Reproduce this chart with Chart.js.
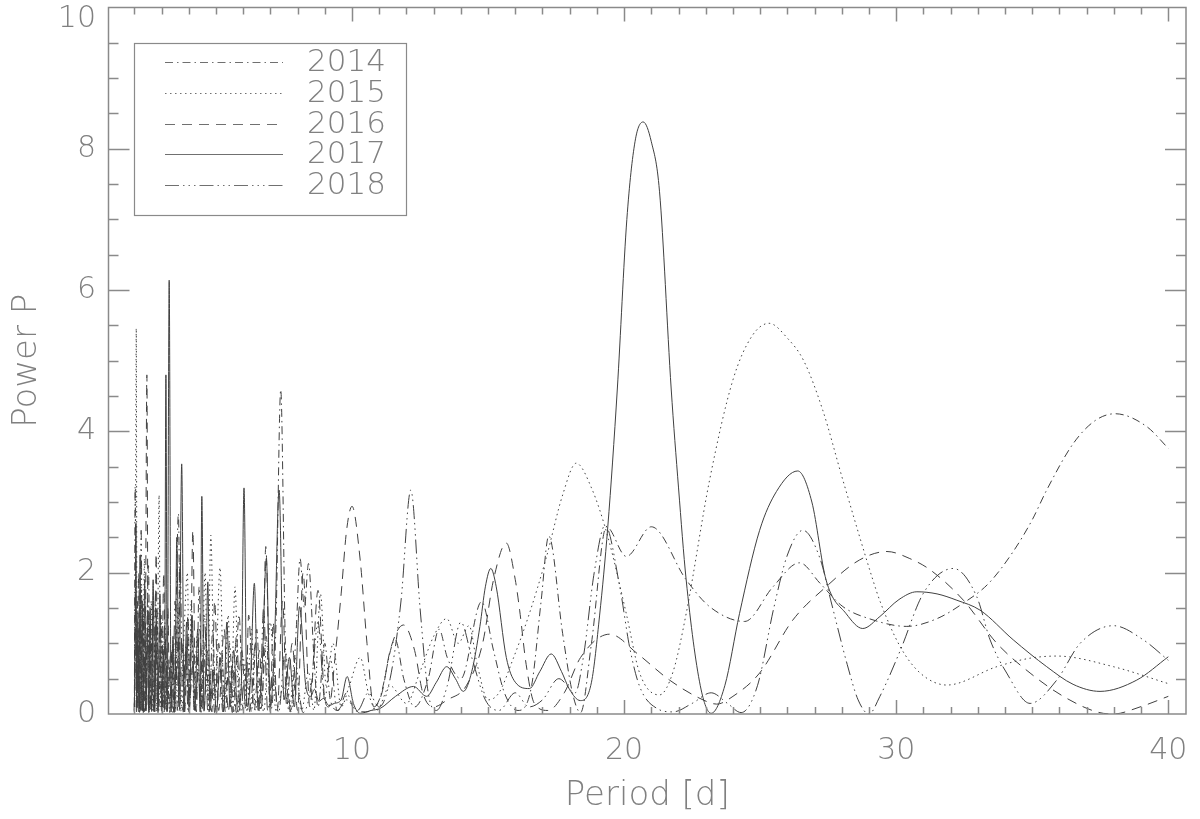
<!DOCTYPE html>
<html>
<head>
<meta charset="utf-8">
<script src="https://cdn.jsdelivr.net/npm/chart.js@4.4.1/dist/chart.umd.min.js"></script>
<style>
  html, body { margin: 0; padding: 0; background: #fff; }
  canvas { display: block; }
</style>
</head>
<body>
<canvas id="chart" width="1200" height="819"></canvas>
<script>
// periodogram per season: [period (d), power]
const years = ["2014", "2015", "2016", "2017", "2018"];

const s2014 = [[2.0,0.05],[2.03,3.22],[2.07,0.1],[2.12,1.6],[2.18,0.03],[2.24,1.1],[2.3,0.05],[2.35,1.5],[2.4,0.05],[2.52,2.1],[2.58,0.05],[2.65,1.2],[2.72,0.03],[2.83,1.5],[2.9,0.05],[2.98,1.4],[3.05,0.03],[3.12,1.1],[3.2,0.05],[3.35,0.9],[3.45,0.03],[3.52,1.2],[3.62,2.84],[3.7,0.15],[3.8,0.03],[3.9,1.0],[4.0,0.03],[4.15,0.7],[4.28,0.03],[4.38,1.8],[4.5,0.05],[4.62,1.1],[4.75,0.03],[4.88,1.2],[5.0,0.05],[5.2,0.9],[5.35,0.03],[5.5,1.0],[5.65,0.03],[5.85,1.4],[6.0,0.05],[6.15,0.8],[6.3,0.03],[6.5,1.2],[6.65,0.05],[6.85,1.1],[7.0,0.03],[7.2,1.2],[7.38,4.59],[7.55,1.0],[7.75,0.05],[7.95,1.2],[8.09,2.2],[8.25,1.5],[8.4,2.13],[8.6,0.8],[8.75,0.1],[9.0,1.0],[9.2,0.2],[9.5,0.05],[9.8,0.3],[10.1,0.05],[10.5,0.03],[11.0,0.2],[11.59,1.05],[11.9,0.5],[12.3,0.1],[12.8,0.5],[13.2,1.2],[13.5,0.8],[14.0,0.5],[14.76,1.59],[15.2,0.9],[15.6,0.3],[16.1,0.05],[16.6,0.4],[16.95,1.6],[17.23,2.52],[17.74,1.14],[18.1,0.3],[18.4,0.02],[18.8,1.0],[19.35,2.65],[20.08,2.23],[21.0,2.65],[22.28,1.9],[23.14,1.52],[24.43,1.31],[25.47,1.8],[26.45,2.14],[27.2,1.85],[28.04,1.52],[29.0,1.35],[30.39,1.24],[31.5,1.35],[32.47,1.57],[33.4,1.85],[34.3,2.3],[35.0,2.75],[35.53,3.17],[36.51,3.83],[37.3,4.15],[38.04,4.25],[39.2,4.07],[40.0,3.76]];

const s2015 = [[2.0,0.05],[2.04,2.0],[2.07,5.46],[2.1,0.1],[2.15,1.2],[2.2,0.03],[2.26,1.8],[2.31,0.05],[2.37,2.2],[2.42,0.05],[2.5,1.4],[2.55,0.03],[2.62,1.6],[2.68,0.05],[2.75,1.0],[2.81,0.03],[2.86,1.2],[2.91,3.1],[2.96,0.1],[3.03,1.3],[3.1,0.03],[3.2,0.8],[3.3,0.02],[3.4,0.9],[3.5,0.05],[3.6,1.5],[3.7,0.03],[3.82,1.1],[3.95,2.0],[4.02,0.2],[4.09,1.6],[4.2,0.1],[4.3,1.1],[4.45,0.05],[4.6,2.0],[4.7,0.2],[4.81,2.53],[4.95,0.2],[5.15,2.07],[5.3,0.1],[5.45,1.4],[5.55,0.1],[5.7,1.8],[5.85,0.05],[6.0,0.8],[6.15,0.03],[6.3,1.2],[6.45,0.05],[6.6,0.5],[6.75,0.03],[7.0,1.3],[7.2,0.05],[7.5,0.4],[7.7,0.03],[7.9,0.8],[8.15,0.05],[8.4,0.6],[8.6,0.05],[8.84,1.7],[9.05,0.4],[9.3,1.0],[9.6,0.1],[9.9,0.4],[10.3,0.8],[10.6,0.3],[10.9,0.05],[11.4,0.4],[12.0,0.15],[12.5,0.6],[13.0,1.1],[13.48,1.35],[13.9,1.0],[14.3,1.25],[14.6,0.7],[15.0,0.2],[15.4,0.3],[15.9,0.76],[16.5,1.4],[17.13,2.2],[17.74,3.1],[18.24,3.55],[18.8,3.2],[19.4,2.51],[20.08,1.42],[20.57,0.58],[21.3,0.27],[21.8,0.6],[22.28,1.42],[23.14,3.31],[24.0,4.73],[24.7,5.35],[25.33,5.53],[26.0,5.32],[26.6,5.0],[27.3,4.3],[28.04,3.31],[29.14,1.9],[29.41,1.59],[30.15,0.95],[30.88,0.58],[31.86,0.41],[33.7,0.67],[34.92,0.79],[35.9,0.82],[37.98,0.67],[40.0,0.43]];

const s2016 = [[2.0,0.1],[2.05,1.5],[2.1,0.05],[2.16,2.0],[2.22,0.05],[2.3,1.4],[2.36,0.03],[2.41,1.2],[2.46,4.8],[2.51,0.1],[2.57,1.3],[2.63,0.03],[2.7,1.6],[2.75,0.1],[2.8,2.27],[2.86,0.05],[2.93,1.2],[3.0,0.03],[3.08,2.0],[3.15,0.05],[3.23,1.5],[3.3,0.03],[3.38,0.9],[3.46,0.02],[3.55,1.2],[3.65,0.05],[3.75,1.0],[3.85,0.03],[3.97,1.4],[4.05,0.2],[4.15,2.6],[4.25,0.05],[4.4,1.2],[4.55,0.03],[4.7,0.9],[4.85,0.03],[4.95,1.6],[5.1,0.05],[5.3,1.2],[5.45,0.03],[5.6,0.7],[5.75,0.02],[5.95,0.9],[6.1,0.05],[6.2,1.4],[6.4,0.05],[6.6,0.9],[6.7,0.2],[6.83,2.37],[7.0,0.1],[7.1,1.3],[7.25,0.05],[7.45,1.6],[7.6,0.1],[7.8,1.0],[8.0,0.05],[8.2,2.0],[8.45,0.1],[8.75,1.75],[9.0,0.2],[9.15,0.1],[9.4,0.9],[9.6,1.7],[9.8,2.6],[10.0,2.94],[10.3,2.18],[10.55,1.0],[10.8,0.1],[11.1,0.3],[11.4,0.9],[11.89,1.26],[12.3,0.9],[12.6,0.3],[13.0,0.1],[13.5,0.2],[14.2,0.4],[14.8,1.0],[15.2,1.9],[15.67,2.42],[16.0,1.9],[16.16,1.47],[16.4,0.7],[16.7,0.15],[17.2,0.05],[17.8,0.3],[18.4,0.8],[19.47,1.13],[20.5,0.85],[21.67,0.48],[22.9,0.2],[23.4,0.14],[24.0,0.25],[24.98,0.58],[26.2,1.33],[27.42,1.8],[28.65,2.18],[29.66,2.3],[30.5,2.2],[31.25,2.04],[32.47,1.61],[33.7,1.0],[34.92,0.58],[36.14,0.25],[37.37,0.03],[37.98,0.0],[38.96,0.1],[40.0,0.25]];

const s2017 = [[2.0,0.03],[2.03,1.0],[2.06,2.7],[2.09,0.1],[2.13,1.3],[2.17,0.03],[2.21,2.25],[2.25,0.05],[2.29,1.6],[2.33,0.02],[2.38,1.9],[2.43,0.05],[2.48,1.2],[2.53,0.02],[2.58,1.5],[2.63,0.05],[2.69,1.9],[2.75,0.03],[2.81,1.3],[2.87,0.02],[2.94,1.7],[3.01,0.05],[3.06,0.9],[3.11,0.05],[3.16,4.8],[3.21,0.05],[3.28,6.14],[3.35,0.03],[3.42,1.1],[3.49,0.03],[3.56,2.5],[3.64,0.1],[3.74,3.54],[3.83,0.03],[3.92,1.3],[4.02,0.03],[4.12,1.4],[4.22,0.05],[4.33,1.2],[4.42,0.03],[4.48,3.08],[4.56,0.05],[4.64,0.8],[4.7,1.87],[4.78,0.05],[4.9,0.6],[5.02,0.02],[5.15,0.8],[5.28,0.03],[5.4,1.3],[5.52,0.1],[5.65,0.9],[5.8,0.03],[5.93,0.4],[6.03,3.2],[6.14,0.1],[6.27,0.5],[6.41,1.85],[6.55,0.05],[6.7,0.7],[6.85,2.2],[7.0,0.1],[7.15,1.0],[7.32,3.17],[7.5,0.2],[7.7,0.8],[7.88,0.1],[8.07,1.52],[8.3,0.4],[8.48,0.25],[8.62,0.35],[8.78,0.18],[8.95,0.22],[9.15,0.12],[9.35,0.15],[9.6,0.2],[9.82,0.53],[10.05,0.15],[10.3,0.01],[10.7,0.05],[11.04,0.08],[11.6,0.25],[12.26,0.39],[12.74,0.25],[13.1,0.45],[13.48,0.67],[13.8,0.5],[14.09,0.32],[14.4,0.6],[14.7,1.24],[14.9,1.8],[15.1,2.06],[15.3,1.8],[15.67,0.8],[16.0,0.45],[16.52,0.36],[16.9,0.6],[17.32,0.85],[17.7,0.6],[17.99,0.35],[18.39,0.19],[18.8,0.45],[19.1,1.4],[19.4,2.65],[19.75,4.6],[20.1,7.0],[20.4,8.1],[20.7,8.38],[21.0,8.1],[21.3,7.4],[21.73,4.6],[22.0,3.2],[22.28,1.9],[22.8,0.4],[23.2,0.01],[23.7,0.4],[24.24,1.42],[24.98,2.6],[25.6,3.15],[26.38,3.44],[26.9,3.0],[27.42,1.9],[28.16,1.42],[28.77,1.21],[29.4,1.38],[30.1,1.62],[30.76,1.73],[31.5,1.7],[32.23,1.61],[33.08,1.47],[34.3,1.05],[35.53,0.67],[36.5,0.42],[37.49,0.32],[38.84,0.48],[40.0,0.81]];

const s2018 = [[2.0,0.03],[2.04,1.8],[2.08,0.03],[2.14,0.9],[2.19,0.02],[2.25,2.6],[2.3,0.05],[2.36,0.8],[2.42,0.02],[2.5,1.6],[2.56,0.03],[2.64,1.0],[2.7,0.02],[2.78,1.7],[2.85,0.05],[2.95,0.8],[3.02,0.02],[3.12,1.3],[3.2,0.03],[3.32,0.7],[3.4,0.02],[3.5,1.6],[3.58,0.05],[3.68,2.2],[3.78,0.05],[3.88,0.9],[3.98,0.02],[4.1,1.2],[4.2,0.03],[4.35,0.6],[4.45,0.02],[4.58,1.4],[4.7,0.03],[4.85,0.7],[4.95,0.02],[5.1,1.0],[5.25,0.03],[5.45,0.5],[5.6,0.02],[5.75,1.1],[5.9,0.03],[6.1,0.7],[6.25,0.02],[6.45,1.0],[6.6,0.03],[6.75,1.5],[6.9,0.05],[7.1,0.6],[7.3,0.02],[7.55,0.9],[7.75,0.03],[7.95,0.5],[8.2,0.02],[8.5,0.4],[8.75,1.3],[9.0,0.2],[9.2,0.8],[9.45,0.05],[9.8,0.2],[10.2,0.05],[10.6,0.3],[11.0,0.1],[11.4,0.5],[11.8,1.6],[12.16,3.17],[12.5,1.5],[12.8,0.3],[13.1,0.05],[13.5,0.4],[14.0,1.3],[14.4,0.8],[14.9,0.2],[15.4,0.05],[16.0,0.3],[16.5,0.1],[17.0,0.2],[17.6,0.5],[18.2,0.3],[18.5,0.8],[18.9,2.0],[19.3,2.67],[19.84,1.8],[20.2,0.95],[20.57,0.39],[21.2,0.08],[21.8,0.03],[22.5,0.15],[23.2,0.3],[23.8,0.15],[24.3,0.02],[24.9,0.4],[25.5,1.5],[26.0,2.25],[26.57,2.6],[27.2,2.2],[27.6,1.6],[28.2,0.7],[28.6,0.2],[29.0,0.0],[29.4,0.25],[30.15,0.9],[31.0,1.71],[32.1,2.06],[32.96,1.66],[33.45,1.05],[34.06,0.58],[34.92,0.15],[35.9,0.48],[36.76,1.0],[37.98,1.25],[39.08,1.05],[40.0,0.76]];

const series = [s2014, s2015, s2016, s2017, s2018];
const dashes = [[8, 4, 1.5, 4], [1.5, 3.5], [10, 7], [], [14, 4, 1.5, 4, 1.5, 4, 1.5, 4]];

const xTickLabels = [10, 20, 30, 40];
const yTickLabels = [0, 2, 4, 6, 8, 10];

const lineColor = "#404040";
const axisColor = "#8a8a8a";
const textColor = "#808080";
const fontFamily = "'DejaVu Sans', 'Liberation Sans', sans-serif";

// IDL-style frame: inward ticks on all four sides, labels, titles and boxed legend
const idlAxes = {
	id: "idlAxes",
	afterDraw(chart) {
		const { ctx, chartArea: a, scales } = chart;
		const x = scales.x, y = scales.y;
		ctx.save();
		ctx.strokeStyle = axisColor;
		ctx.lineWidth = 1.5;
		ctx.setLineDash([]);
		ctx.strokeRect(a.left, a.top, a.right - a.left, a.bottom - a.top);

		ctx.beginPath();
		for (let v = 2; v <= 40; v++) {
			const px = Math.round(x.getPixelForValue(v)) + 0.5;
			const len = v % 10 === 0 ? 14 : 7;
			ctx.moveTo(px, a.bottom); ctx.lineTo(px, a.bottom - len);
			ctx.moveTo(px, a.top); ctx.lineTo(px, a.top + len);
		}
		for (let i = 1; i < 20; i++) {
			const v = i * 0.5;
			const py = Math.round(y.getPixelForValue(v)) + 0.5;
			const len = i % 4 === 0 ? 21 : 10;
			ctx.moveTo(a.left, py); ctx.lineTo(a.left + len, py);
			ctx.moveTo(a.right, py); ctx.lineTo(a.right - len, py);
		}
		ctx.stroke();

		ctx.fillStyle = textColor;
		ctx.font = "200 30px " + fontFamily;
		ctx.textAlign = "center";
		ctx.textBaseline = "middle";
		xTickLabels.forEach(v => ctx.fillText(String(v), x.getPixelForValue(v), 751));
		ctx.textAlign = "right";
		yTickLabels.forEach(v => {
			const py = Math.max(y.getPixelForValue(v), 19);
			ctx.fillText(String(v), 96, py);
		});

		ctx.font = "200 34px " + fontFamily;
		ctx.textAlign = "center";
		ctx.fillText("Period [d]", (a.left + a.right) / 2, 796);
		ctx.save();
		ctx.translate(27, (a.top + a.bottom) / 2);
		ctx.rotate(-Math.PI / 2);
		ctx.fillText("Power P", 0, 0);
		ctx.restore();

		// legend
		ctx.lineWidth = 1.2;
		ctx.strokeStyle = axisColor;
		ctx.strokeRect(134.5, 43.5, 272, 172);
		ctx.font = "200 31px " + fontFamily;
		ctx.textAlign = "left";
		chart.data.datasets.forEach((ds, i) => {
			const ry = 62 + i * 30.8;
			ctx.strokeStyle = "#707070";
			ctx.lineWidth = 1.2;
			ctx.setLineDash(ds.borderDash);
			ctx.beginPath();
			ctx.moveTo(165, Math.round(ry) + 0.5);
			ctx.lineTo(283, Math.round(ry) + 0.5);
			ctx.stroke();
			ctx.setLineDash([]);
			ctx.fillText(ds.label, 307, ry + 1);
		});
		ctx.restore();
	},
};

new Chart(document.getElementById("chart"), {
	type: "line",
	data: {
		datasets: years.map((yr, i) => ({
			label: yr,
			data: series[i].map(p => ({ x: p[0], y: p[1] })),
			borderColor: lineColor,
			borderWidth: 1,
			borderDash: dashes[i],
			fill: false,
			pointRadius: 0,
			cubicInterpolationMode: "monotone",
		})),
	},
	options: {
		responsive: false,
		animation: false,
		layout: { padding: { left: 108.5, right: 14, top: 7.5, bottom: 105 } },
		scales: {
			x: { type: "linear", min: 1.05, max: 40.65, display: false },
			y: { type: "linear", min: 0, max: 10, display: false },
		},
		plugins: {
			legend: { display: false },
			tooltip: { enabled: false },
		},
	},
	plugins: [idlAxes],
});
</script>
</body>
</html>
